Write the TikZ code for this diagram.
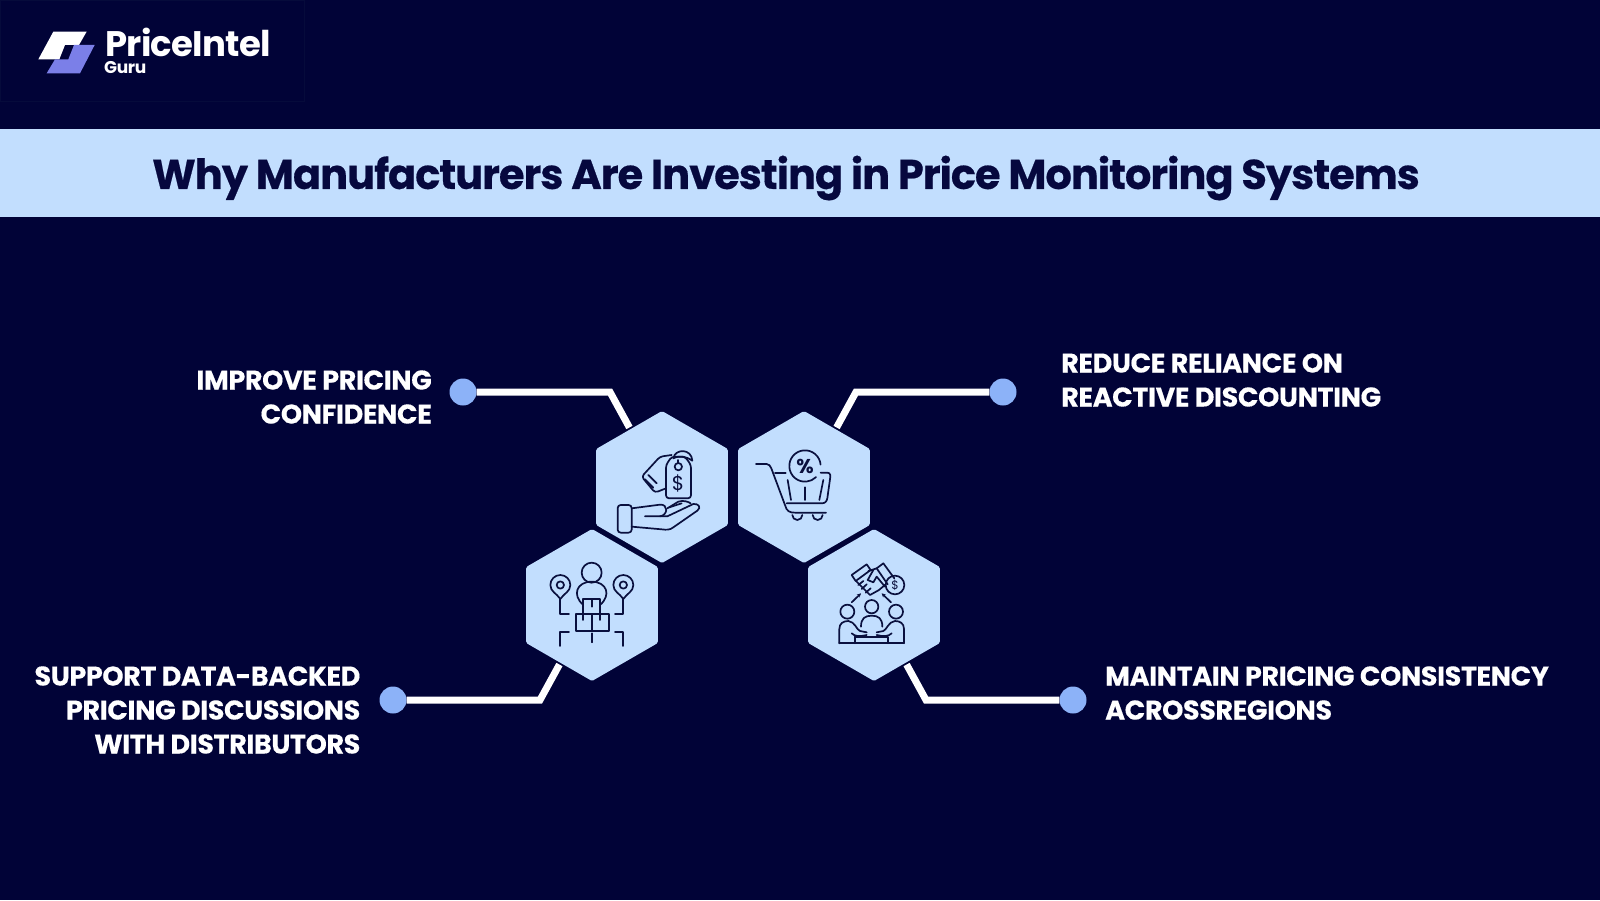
\documentclass[tikz,border=0pt]{standalone}
\usepackage{fontspec}
\setmainfont{Poppins}
\newfontfamily\titlef[LetterSpace=-2.4,BoldFeatures={FakeBold=0.45}]{Poppins}
\newfontfamily\labf[LetterSpace=-1.4,BoldFeatures={FakeBold=0.3}]{Poppins}
\newfontfamily\brandf[LetterSpace=-2]{Poppins}
\usetikzlibrary{shapes.geometric,arrows.meta}
\definecolor{bgnavy}{RGB}{1,3,55}
\definecolor{band}{RGB}{194,222,254}
\definecolor{inkd}{RGB}{10,16,62}
\definecolor{titlec}{RGB}{6,8,62}
\definecolor{dotb}{RGB}{140,178,248}
\definecolor{logop}{RGB}{123,127,232}
\tikzset{
  hexa/.style={regular polygon,regular polygon sides=6,shape border rotate=30,minimum size=152pt,inner sep=0pt,outer sep=0pt,fill=band,rounded corners=1.5pt},
  dotn/.style={circle,fill=dotb,minimum size=27pt,inner sep=0pt},
  conn/.style={draw=white,line width=7pt,shorten >=2pt,line join=miter},
  lab/.style={text=white,font=\labf\bfseries\fontsize{27}{34}\selectfont,inner sep=0pt},
  ico/.style={draw=inkd,line width=1.7pt,line cap=round,line join=round},
}
\begin{document}
\begin{tikzpicture}[x=1pt,y=-1pt]
\fill[bgnavy] (0,0) rectangle (1600,900);
\useasboundingbox (0,0) rectangle (1600,900);
% logo
\draw[draw=inkd!60!bgnavy,line width=0.8pt] (0.5,0.5) rectangle (304,101);
\begin{scope}[x=0.3333pt,y=-0.3333pt]
\fill[white] (160,95)--(260,95)--(237,135)--(195,135)--(178,178)--(115,178)--cycle;
\fill[logop] (222,135)--(284,135)--(240,220)--(140,220)--(165,178)--(205,178)--cycle;
\end{scope}
\node[text=white,font=\brandf\bfseries\fontsize{35.5}{36}\selectfont,anchor=base west,inner sep=0pt,text depth=0pt] (brand) at (105,56) {PriceIntel};
\node[text=white,font=\brandf\bfseries\fontsize{17}{17}\selectfont,anchor=base west,inner sep=0pt,text height=12pt,text depth=0pt] (guru) at (104,73) {Guru};
% band
\fill[band] (0,129) rectangle (1600,217);
\node[text=titlec,font=\titlef\bfseries\fontsize{41.5}{48}\selectfont,inner sep=0pt] (title) at (786,178) {Why Manufacturers Are Investing in Price Monitoring Systems};
% connectors
\node[hexa] (h1) at (662,487) {};
\node[hexa] (h2) at (804,487) {};
\node[hexa] (h3) at (592,605) {};
\node[hexa] (h4) at (874,605) {};
\node[dotn] (d1) at (463,392) {};
\node[dotn] (d2) at (1003,392) {};
\node[dotn] (d3) at (393,700) {};
\node[dotn] (d4) at (1073,700) {};
\coordinate (e1) at (610,392);
\coordinate (e2) at (856,392);
\coordinate (e3) at (540,700);
\coordinate (e4) at (926,700);
\path[conn] (d1) -- (e1) -- (h1);
\path[conn] (d2) -- (e2) -- (h2);
\path[conn] (d3) -- (e3) -- (h3);
\path[conn] (d4) -- (e4) -- (h4);
% labels
\node[lab,align=right,anchor=east] (t1) at (432,397) {IMPROVE PRICING\\CONFIDENCE};
\node[lab,align=left,anchor=west] (t2) at (1061,380) {REDUCE RELIANCE ON\\REACTIVE DISCOUNTING};
\node[lab,align=right,anchor=east] (t3) at (360.5,710) {SUPPORT DATA-BACKED\\PRICING DISCUSSIONS\\WITH DISTRIBUTORS};
\node[lab,align=left,anchor=west] (t4) at (1105,693) {MAINTAIN PRICING CONSISTENCY\\ACROSSREGIONS};
% icon 1
\begin{scope}[shift={(590,400)},x=0.3333pt,y=-0.3333pt]
\draw[ico,rounded corners=3pt] (83,315) rectangle (125,398);
\draw[ico] (125,325) -- (210,314) .. controls (235,312) and (235,345) .. (210,349) -- (165,349);
\draw[ico] (210,349) -- (232,349) -- (310,312) .. controls (325,310) and (335,322) .. (322,332) -- (250,382) .. controls (240,390) and (230,390) .. (215,388) -- (125,380);
\draw[ico] (232,325) -- (265,305) .. controls (280,300) and (295,305) .. (302,310);
\draw[ico] (238,322) -- (275,310);
\draw[ico,rounded corners=3pt] (245,170) -- (285,170) -- (303,195) -- (303,295) -- (228,295) -- (228,195) -- cycle;
\draw[ico] (265,200) circle (11);
\draw[ico] (265,180) -- (265,190);
\node[text=inkd,font=\fontsize{20}{20}\selectfont,inner sep=0pt] (dol) at (264,250) {\$};
\draw[ico,rounded corners=3pt] (228,265) -- (195,278) -- (155,230) -- (210,170) -- (245,165);
\draw[ico] (175,225) -- (200,250);
\draw[ico] (165,238) -- (190,263);
\draw[ico] (250,175) .. controls (255,145) and (305,145) .. (307,182) .. controls (290,170) and (270,165) .. (250,175);
\end{scope}
% icon 2
\begin{scope}[shift={(590,400)},x=0.3333pt,y=-0.3333pt]
\draw[ico] (498,192) -- (530,192) .. controls (538,192) and (540,198) .. (544,205) -- (585,315) .. controls (590,335) and (600,338) .. (615,338) -- (708,338);
\draw[ico] (555,218) -- (587,218);
\draw[ico] (692,218) -- (712,218) .. controls (722,218) and (722,228) .. (720,238) -- (712,295) .. controls (710,305) and (705,310) .. (695,310) -- (590,310);
\draw[ico] (645,198) ++(-5:47) arc[start angle=-5,end angle=-315,radius=47];
\node[text=inkd,font=\bfseries\fontsize{20}{20}\selectfont,inner sep=0pt] (pct) at (645,200) {\%};
\draw[ico] (593,240) -- (603,300);
\draw[ico] (645,262) -- (645,300);
\draw[ico] (700,240) -- (688,300);
\draw[ico] (607,345) arc[start angle=180,end angle=0,radius=15];
\draw[ico] (668,345) arc[start angle=180,end angle=0,radius=15];
\end{scope}
% icon 3
\begin{scope}[shift={(520,525)},x=0.3333pt,y=-0.3333pt]
\draw[ico] (215,143) circle (30);
\draw[ico] (190,240) .. controls (155,210) and (170,170) .. (215,170) .. controls (260,170) and (275,210) .. (240,240);
\draw[ico] (190,222) rectangle (240,268);
\draw[ico] (216,225) -- (216,245);
\draw[ico] (167,268) rectangle (267,317);
\draw[ico] (216,268) -- (216,317);
\draw[ico] (190,268) -- (190,285);
\draw[ico] (240,268) -- (240,285);
\draw[ico] (121,222) .. controls (110,205) and (91,200) .. (91,180) arc[start angle=180,end angle=360,radius=30] .. controls (151,200) and (132,205) .. (121,222);
\draw[ico] (121,180) circle (11);
\draw[ico] (121,222) -- (121,267) -- (147,267);
\draw[ico] (310,222) .. controls (299,205) and (280,200) .. (280,180) arc[start angle=180,end angle=360,radius=30] .. controls (340,200) and (321,205) .. (310,222);
\draw[ico] (310,180) circle (11);
\draw[ico] (310,222) -- (310,267) -- (285,267);
\draw[ico] (121,363) -- (121,320) -- (147,320);
\draw[ico] (310,363) -- (310,320) -- (285,320);
\draw[ico] (216,325) -- (216,352);
\end{scope}
% icon 4
\begin{scope}[shift={(805,525)},x=0.3333pt,y=-0.3333pt]
\draw[ico] (140,150) -- (185,118) -- (197,135) -- (152,168) -- cycle;
\draw[ico] (215,130) -- (235,115) -- (268,160);
\draw[ico] (190,138) -- (215,130) -- (248,178);
\draw[ico] (155,170) -- (195,210) -- (222,195) -- (242,178);
\draw[ico] (205,135) -- (188,165) -- (205,172) -- (215,155) -- (240,185);
\draw[ico] (160,180) -- (175,168);
\draw[ico] (170,192) -- (185,178);
\draw[ico] (182,203) -- (197,190);
\draw[ico] (270,180) circle (28);
\node[text=inkd,font=\fontsize{12}{12}\selectfont,inner sep=0pt] (dol2) at (270,180) {\$};
\draw[ico,-{Stealth[length=4pt,width=4pt]}] (140,232) -- (168,205);
\draw[ico,-{Stealth[length=4pt,width=4pt]}] (258,232) -- (230,205);
\draw[ico] (127,260) circle (21);
\draw[ico] (200,245) circle (20);
\draw[ico] (273,260) circle (21);
\draw[ico] (103,355) -- (103,312) .. controls (103,295) and (115,288) .. (130,288) .. controls (150,290) and (155,315) .. (165,318) -- (185,322);
\draw[ico] (297,355) -- (297,312) .. controls (297,295) and (285,288) .. (270,288) .. controls (250,290) and (245,315) .. (235,318) -- (215,322);
\draw[ico] (168,305) .. controls (168,280) and (180,272) .. (200,272) .. controls (220,272) and (232,280) .. (232,305);
\draw[ico] (140,325) .. controls (150,335) and (165,335) .. (185,330);
\draw[ico] (260,325) .. controls (250,335) and (235,335) .. (215,330);
\draw[ico] (150,335) -- (250,335) -- (250,355);
\draw[ico] (150,335) -- (150,355);
\draw[ico] (103,355) -- (297,355);
\end{scope}
\end{tikzpicture}
\end{document}
